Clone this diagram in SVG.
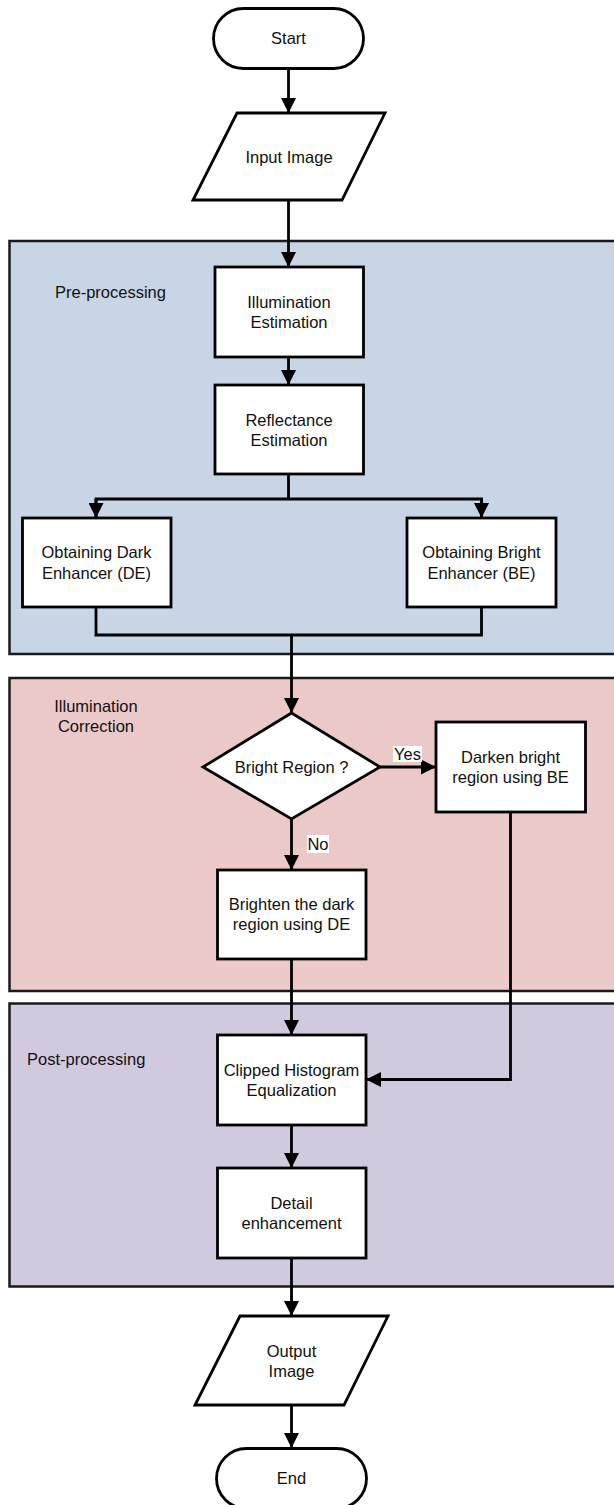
<svg xmlns="http://www.w3.org/2000/svg" width="614" height="1505" viewBox="0 0 614 1505">
<style>
text{font-family:"Liberation Sans",Arial,sans-serif;font-size:16.5px;fill:#111;text-anchor:middle;dominant-baseline:central}
.lbl{text-anchor:start}
.panel{stroke:#1a1a1a;stroke-width:2.5}
.node{fill:#fff;stroke:#000;stroke-width:2.8}
.edge{fill:none;stroke:#000;stroke-width:2.8}
</style>
<defs>
<marker id="ah" viewBox="0 0 10 10" refX="10" refY="5" markerWidth="15" markerHeight="15" markerUnits="userSpaceOnUse" orient="auto">
<path d="M0,0 L10,5 L0,10 Z" fill="#000"/>
</marker>
</defs>
<rect width="614" height="1505" fill="#fff"/>
<g id="panels">
<g id="pre-processing">
<rect class="panel" x="9.5" y="241" width="620" height="413" fill="#c8d5e5"/>
<text class="lbl" x="55" y="292">Pre-processing</text>
</g>
<g id="illumination-correction">
<rect class="panel" x="9.5" y="678" width="620" height="313" fill="#ecc9c9"/>
<text x="96" y="706">Illumination</text>
<text x="96" y="726">Correction</text>
</g>
<g id="post-processing">
<rect class="panel" x="9.5" y="1003.5" width="620" height="283" fill="#d1c9de"/>
<text class="lbl" x="27" y="1059">Post-processing</text>
</g>
</g>
<g id="connectors">
<path class="edge" d="M288.5,68 V113" marker-end="url(#ah)"/>
<path class="edge" d="M288.5,200 V267" marker-end="url(#ah)"/>
<path class="edge" d="M288.5,357 V385" marker-end="url(#ah)"/>
<path class="edge" d="M288.5,474 V499"/>
<path class="edge" d="M96,518 V499 H481.5 V518"/>
<path class="edge" d="M96,499 V518" marker-end="url(#ah)"/>
<path class="edge" d="M481.5,499 V518" marker-end="url(#ah)"/>
<path class="edge" d="M96,607 V635 H481.5 V607"/>
<path class="edge" d="M291.5,635 V713" marker-end="url(#ah)"/>
<path class="edge" d="M380,767 H436" marker-end="url(#ah)"/>
<path class="edge" d="M291.5,819 V870" marker-end="url(#ah)"/>
<path class="edge" d="M291.5,959 V1035" marker-end="url(#ah)"/>
<path class="edge" d="M510.5,812 V1079.5 H366" marker-end="url(#ah)"/>
<path class="edge" d="M291.5,1125 V1168" marker-end="url(#ah)"/>
<path class="edge" d="M291.5,1258 V1316" marker-end="url(#ah)"/>
<path class="edge" d="M291.5,1405 V1448" marker-end="url(#ah)"/>
<g id="label-yes">
<rect x="393" y="746" width="29" height="16" fill="#fff"/>
<text x="407.5" y="754">Yes</text>
</g>
<g id="label-no">
<rect x="307" y="835" width="22" height="18" fill="#fff"/>
<text x="318" y="844">No</text>
</g>
</g>
<g id="start">
<rect class="node" x="213.5" y="8.5" width="150" height="60" rx="30"/>
<text x="288.5" y="38">Start</text>
</g>
<g id="input-image">
<path class="node" d="M237,113 H385 L342,200 H193 Z"/>
<text x="289" y="157">Input Image</text>
</g>
<g id="illumination-estimation">
<rect class="node" x="215" y="267" width="148.5" height="90"/>
<text x="289" y="302">Illumination</text>
<text x="289" y="322">Estimation</text>
</g>
<g id="reflectance-estimation">
<rect class="node" x="215" y="385" width="148.5" height="89"/>
<text x="289" y="420">Reflectance</text>
<text x="289" y="440">Estimation</text>
</g>
<g id="dark-enhancer">
<rect class="node" x="22.5" y="518" width="148.5" height="89"/>
<text x="96.5" y="552">Obtaining Dark</text>
<text x="96.5" y="573">Enhancer (DE)</text>
</g>
<g id="bright-enhancer">
<rect class="node" x="407" y="518" width="149" height="89"/>
<text x="481.5" y="552">Obtaining Bright</text>
<text x="481.5" y="573">Enhancer (BE)</text>
</g>
<g id="bright-region">
<path class="node" d="M291.5,713 L380,767 L291.5,819 L203,767 Z"/>
<text x="291.5" y="767">Bright Region ?</text>
</g>
<g id="darken-bright">
<rect class="node" x="436" y="722" width="149.5" height="90"/>
<text x="510.5" y="757">Darken bright</text>
<text x="510.5" y="777">region using BE</text>
</g>
<g id="brighten-dark">
<rect class="node" x="217.5" y="870" width="148.5" height="89"/>
<text x="291.5" y="904">Brighten the dark</text>
<text x="291.5" y="924">region using DE</text>
</g>
<g id="clipped-he">
<rect class="node" x="217.5" y="1035" width="148.5" height="90"/>
<text x="291.5" y="1070">Clipped Histogram</text>
<text x="291.5" y="1090">Equalization</text>
</g>
<g id="detail-enhancement">
<rect class="node" x="217.5" y="1168" width="148.5" height="90"/>
<text x="291.5" y="1203">Detail</text>
<text x="291.5" y="1223">enhancement</text>
</g>
<g id="output-image">
<path class="node" d="M240,1316 H388 L344,1405 H195 Z"/>
<text x="291.5" y="1351">Output</text>
<text x="291.5" y="1371">Image</text>
</g>
<g id="end">
<rect class="node" x="216.5" y="1448.5" width="150" height="60" rx="30"/>
<text x="291.5" y="1478">End</text>
</g>
</svg>
